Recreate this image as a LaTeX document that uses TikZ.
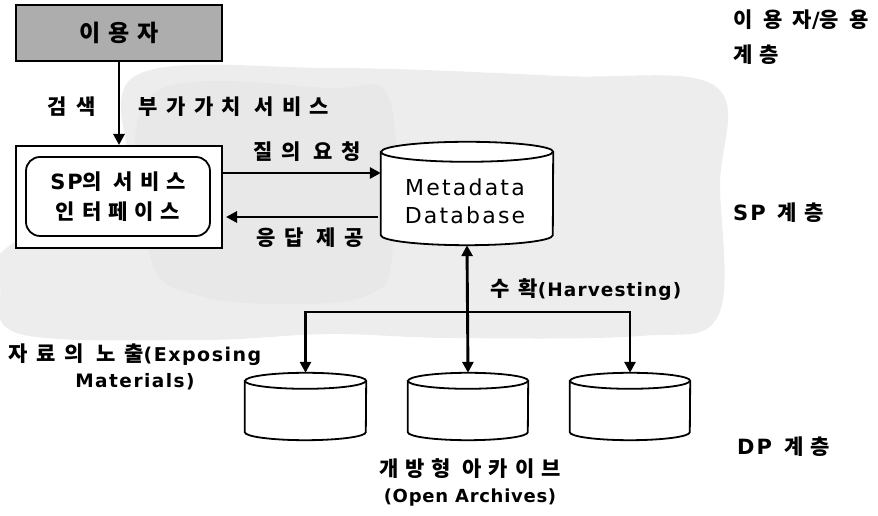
\documentclass[tikz,border=0pt]{standalone}
\usepackage{fontspec}
\setmainfont{Noto Sans CJK KR}
\newfontfamily\lat{DejaVu Sans}
\usetikzlibrary{arrows.meta,calc}
\protected\def\ls#1{\addfontfeature{LetterSpace=#1}}
\protected\def\fs#1{\fontsize{#1}{#1}\selectfont}
\newcommand\dbcyl[3]{%
  \draw[cylline] ($(#1.north west)+(0,-#3)$) -- ($(#1.south west)+(0,#3)$)
    arc[start angle=180,end angle=360,x radius=#2pt,y radius=#3pt]
    -- ($(#1.north east)+(0,-#3)$)
    arc[start angle=0,end angle=180,x radius=#2pt,y radius=#3pt] -- cycle;
  \draw[cylline] ($(#1.north west)+(0,-#3)$)
    arc[start angle=180,end angle=360,x radius=#2pt,y radius=#3pt];}
\tikzset{
  krlbl/.style={font=\bfseries\fs{21}\ls{#1}, inner sep=0pt},
  krlbl/.default=38,
  rlbl/.style={font=\bfseries\fs{21}\ls{#1}, inner sep=0pt, anchor=west},
  rlbl/.default=30,
  cylline/.style={line width=1.8pt, fill=white},
  arr/.style={line width=2.9pt, -{Triangle[length=11pt,width=11pt]}},
  darr/.style={line width=2.9pt, {Triangle[length=11pt,width=11pt]}-{Triangle[length=11pt,width=11pt]}},
  plainbox/.style={draw, line width=2pt, fill=white, inner sep=0pt},
}
\begin{document}
\begin{tikzpicture}[x=1pt,y=1pt]
\useasboundingbox (0,0) rectangle (878,516);
% scanned halftone background
\fill[black!7] plot[smooth cycle, tension=0.6] coordinates {(135,440) (330,448) (560,440) (715,430) (720,330) (718,200) (640,180) (450,178) (330,182) (200,176) (20,182) (0,230) (0,262) (60,300) (128,330)};
\fill[black!9] plot[smooth cycle, tension=0.6] coordinates {(150,420) (330,428) (390,415) (392,260) (370,222) (300,212) (200,220) (150,260)};
% user box
\node[plainbox, fill=black!32, minimum width=206pt, minimum height=56pt,
      font=\bfseries\fs{23}\ls{35}] (user) at (119,483) {이용자};
% SP box
\node[plainbox, minimum width=206pt, minimum height=102pt] (sp) at (119,319) {};
\node[draw, line width=1.8pt, rounded corners=14pt, minimum width=184pt, minimum height=79pt,
      inner sep=0pt, align=center,
      font=\bfseries\fontsize{21}{30}\selectfont\ls{33}] (spin) at (118,319.5)
      {{\lat\ls{10}SP}의 서비스\\인터페이스};
% Metadata database
\node[inner sep=0pt, minimum width=172pt, minimum height=103pt] (mdb) at (467,322.5) {};
\dbcyl{mdb}{86}{10}
\node[inner sep=0pt, align=center, font=\lat\fontsize{22}{28}\selectfont\ls{10}] (mdbt) at (465,315) {Metadata\\Database};
% open archives
\node[inner sep=0pt, minimum width=121pt, minimum height=67pt] (a1) at (305.5,109.5) {};
\node[inner sep=0pt, minimum width=120pt, minimum height=67pt] (a2) at (468,109.5) {};
\node[inner sep=0pt, minimum width=120pt, minimum height=67pt] (a3) at (630,109.5) {};
\dbcyl{a1}{60.5}{8}
\dbcyl{a2}{60}{8}
\dbcyl{a3}{60}{8}
% connectors
\coordinate (q1) at (0,343);
\coordinate (q2) at (0,299);
\coordinate (br) at (467,204);
\draw[arr] (user) -- (sp);
\draw[arr] (sp.east |- q1) -- (mdb.west |- q1);
\draw[arr] ([xshift=-3pt]mdb.west |- q2) -- ([xshift=3pt]sp.east |- q2);
\draw[darr] (mdb.south) -- (a2.north);
\draw[arr] (br) -| (a1.north);
\draw[arr] (br) -| (a3.north);
% labels
\node[krlbl=45] (l1) at (72,409) {검색};
\node[krlbl=40] (l2) at (234,409) {부가가치 서비스};
\node[krlbl=40] (l3) at (307,364) {질의 요청};
\node[krlbl=40] (l4) at (310,278) {응답 제공};
\node[krlbl=40] (l5) at (586,226) {수확{\lat\fs{18.5}\ls{6}(Harvesting)}};
\node[align=center, inner sep=0pt, font=\bfseries\fontsize{21}{26}\selectfont\ls{40}] (l6) at (135,149)
     {자료의 노출{\lat\fs{19}\ls{8}(Exposing}\\{\lat\fs{18.5}\ls{8}Materials)}};
\node[align=center, inner sep=0pt, font=\bfseries\fontsize{21}{26}\selectfont\ls{33}] (l7) at (470,34)
     {개방형 아카이브\\{\lat\fs{18}\ls{4}(Open Archives)}};
\node[rlbl=50] (r1) at (733,496) {이용자{\lat\ls{25}/}응용};
\node[rlbl=35] (r2) at (733,461) {계층};
\node[rlbl=35] (r3) at (733,303) {{\lat\ls{10}SP} 계층};
\node[rlbl=35] (r4) at (737,69) {{\lat\ls{10}DP} 계층};
\end{tikzpicture}
\end{document}
